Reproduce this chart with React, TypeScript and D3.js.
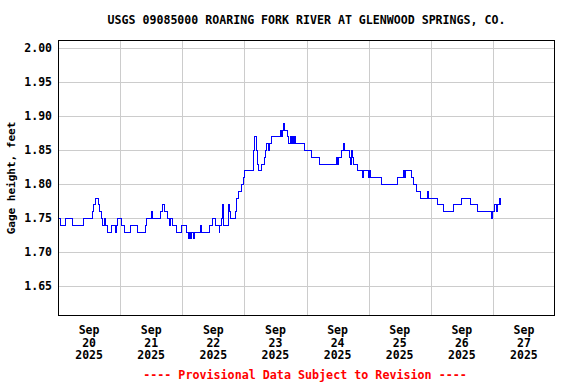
import * as d3 from "d3";
import { useEffect, useRef } from "react";
import * as React from "react";

// Gage height readings, stored as change points (hours after Sep 20 00:00)
const stepHours = [
  0, 0.8, 2.8, 5.4, 9.6, 13.2, 13.7, 14.4, 15.5, 16.0, 16.5, 17.0, 17.8, 18.3,
  19.1, 20.4, 21.9, 22.3, 22.8, 24.5, 25.6, 27.9, 30.5, 33.6, 34.1, 35.9, 36.5,
  39.5, 40.3, 41.0, 42.1, 42.8, 43.4, 43.9, 45.7, 47.6, 49.4, 50.2, 50.7, 51.1,
  51.5, 52.0, 52.5, 54.7, 55.1, 58.2, 59.5, 60.8, 62.1, 62.3, 62.8, 63.5, 63.9,
  65.7, 66.1, 66.6, 68.3, 68.9, 69.6, 70.6, 71.5, 72.0, 75.4, 75.6, 76.3, 76.5,
  76.8, 77.3, 78.5, 79.5, 80.0, 80.5, 81.0, 81.4, 82.1, 85.7, 86.1, 86.5, 87.0,
  87.4, 88.3, 89.0, 89.5, 89.9, 90.3, 90.7, 91.2, 91.6, 95.0, 97.8, 101.0,
  107.4, 107.9, 108.3, 109.2, 110.1, 110.5, 112.4, 112.8, 113.2, 113.6, 114.1,
  115.4, 117.6, 118.0, 119.7, 120.1, 120.5, 124.8, 130.9, 133.3, 133.6, 134.2,
  136.3, 137.0, 138.3, 139.9, 142.6, 143.0, 146.6, 148.9, 152.5, 155.8, 159.1,
  161.8, 167.1, 167.5, 168.4, 169.1, 169.6, 170.3, 170.6, 170.8,
];
const stepValues = [
  1.75, 1.74, 1.75, 1.74, 1.75, 1.76, 1.77, 1.78, 1.77, 1.76, 1.75, 1.74, 1.75,
  1.74, 1.73, 1.74, 1.73, 1.74, 1.75, 1.74, 1.73, 1.74, 1.73, 1.74, 1.75, 1.76,
  1.75, 1.76, 1.77, 1.76, 1.75, 1.74, 1.75, 1.74, 1.73, 1.74, 1.73, 1.72, 1.73,
  1.72, 1.73, 1.72, 1.73, 1.74, 1.73, 1.74, 1.75, 1.74, 1.73, 1.74, 1.75, 1.77,
  1.74, 1.77, 1.76, 1.75, 1.76, 1.78, 1.79, 1.8, 1.81, 1.82, 1.85, 1.87, 1.86,
  1.85, 1.83, 1.82, 1.83, 1.84, 1.85, 1.86, 1.85, 1.86, 1.87, 1.88, 1.87, 1.88,
  1.89, 1.88, 1.87, 1.86, 1.87, 1.86, 1.87, 1.86, 1.87, 1.86, 1.85, 1.84, 1.83,
  1.84, 1.83, 1.84, 1.85, 1.86, 1.85, 1.84, 1.83, 1.85, 1.84, 1.83, 1.82, 1.81,
  1.82, 1.81, 1.82, 1.81, 1.8, 1.81, 1.82, 1.81, 1.82, 1.81, 1.8, 1.79, 1.78,
  1.79, 1.78, 1.77, 1.76, 1.77, 1.78, 1.77, 1.76, 1.75, 1.76, 1.77, 1.76, 1.77,
  1.78, 1.77, 1.77,
];

const yTicks = [1.65, 1.7, 1.75, 1.8, 1.85, 1.9, 1.95, 2.0];
const dayLabels = ["20", "21", "22", "23", "24", "25", "26", "27"];
const monthLabel = "Sep";
const yearLabel = "2025";
const title = "USGS 09085000 ROARING FORK RIVER AT GLENWOOD SPRINGS, CO.";
const yTitle = "Gage height, feet";
const footer = "---- Provisional Data Subject to Revision ----";

const FONT = "'DejaVu Sans Mono', monospace";

const App: React.FC = () => {
  const ref = useRef<SVGSVGElement>(null);

  useEffect(() => {
    const width = 576;
    const height = 384;
    const margin = { top: 40, right: 21, bottom: 68, left: 58 };

    const svg = d3.select(ref.current);
    svg.selectAll("*").remove();

    const t0 = Date.UTC(2025, 8, 20);
    const hourDate = (h: number) => new Date(t0 + h * 3600e3);

    const x = d3
      .scaleUtc()
      .domain([new Date(t0), new Date(Date.UTC(2025, 8, 28))])
      .range([margin.left, width - margin.right]);

    const y = d3
      .scaleLinear()
      .domain([1.6059, 2.0118])
      .range([height - margin.bottom, margin.top]);

    svg
      .append("rect")
      .attr("width", width)
      .attr("height", height)
      .attr("fill", "#fff");

    // grid
    const midnights = dayLabels.slice(1).map((_, i) => hourDate((i + 1) * 24));
    svg
      .append("g")
      .selectAll("line")
      .data(midnights)
      .enter()
      .append("line")
      .attr("x1", (d) => Math.round(x(d)) + 0.5)
      .attr("x2", (d) => Math.round(x(d)) + 0.5)
      .attr("y1", margin.top)
      .attr("y2", height - margin.bottom)
      .attr("stroke", "#cccccc");

    svg
      .append("g")
      .selectAll("line")
      .data(yTicks)
      .enter()
      .append("line")
      .attr("x1", margin.left)
      .attr("x2", width - margin.right)
      .attr("y1", (d) => Math.round(y(d)) + 0.5)
      .attr("y2", (d) => Math.round(y(d)) + 0.5)
      .attr("stroke", "#cccccc");

    // data line
    const pts: [Date, number][] = stepHours.map((h, i) => [
      hourDate(h),
      stepValues[i],
    ]);
    const line = d3
      .line<[Date, number]>()
      .x((d) => Math.round(x(d[0])) + 0.5)
      .y((d) => Math.round(y(d[1])) + 0.5)
      .curve(d3.curveStepAfter);

    svg
      .append("path")
      .attr("d", line(pts))
      .attr("fill", "none")
      .attr("stroke", "#0000ff")
      .attr("stroke-width", 1)
      .attr("shape-rendering", "crispEdges");

    // frame
    svg
      .append("rect")
      .attr("x", margin.left + 0.5)
      .attr("y", margin.top + 0.5)
      .attr("width", width - margin.left - margin.right - 1)
      .attr("height", height - margin.top - margin.bottom - 1)
      .attr("fill", "none")
      .attr("stroke", "#000");

    const txt = svg
      .append("g")
      .attr("font-family", FONT)
      .attr("font-weight", "bold")
      .attr("font-size", 11.5)
      .attr("fill", "#000");

    // y tick labels
    txt
      .selectAll("text.ytick")
      .data(yTicks)
      .enter()
      .append("text")
      .attr("class", "ytick")
      .attr("x", 52)
      .attr("y", (d) => y(d) + 4)
      .attr("text-anchor", "end")
      .text((d) => d.toFixed(2));

    // x labels at noon of each day
    const days = txt
      .selectAll("g.day")
      .data(dayLabels)
      .enter()
      .append("g")
      .attr("class", "day")
      .attr("transform", (_, i) => `translate(${x(hourDate(i * 24 + 12))},0)`);
    [monthLabel, null, yearLabel].forEach((s, k) => {
      days
        .append("text")
        .attr("y", 334 + k * 12.7)
        .attr("text-anchor", "middle")
        .text((d) => (s === null ? d : s));
    });

    txt
      .append("text")
      .attr("x", (margin.left + width - margin.right) / 2)
      .attr("y", 24)
      .attr("text-anchor", "middle")
      .attr("font-size", 11.6)
      .text(title);

    txt
      .append("text")
      .attr("transform", `translate(15,${(margin.top + height - margin.bottom) / 2}) rotate(-90)`)
      .attr("text-anchor", "middle")
      .attr("font-size", 11)
      .text(yTitle);

    txt
      .append("text")
      .attr("x", 305)
      .attr("y", 379)
      .attr("text-anchor", "middle")
      .attr("fill", "#ff0000")
      .attr("font-size", 11.7)
      .text(footer);

    return () => {
      svg.selectAll("*").remove();
    };
  });

  return (
    <svg
      ref={ref}
      width={576}
      height={384}
      style={{ position: "absolute", left: 0, top: 0 }}
    />
  );
};

export default App;
